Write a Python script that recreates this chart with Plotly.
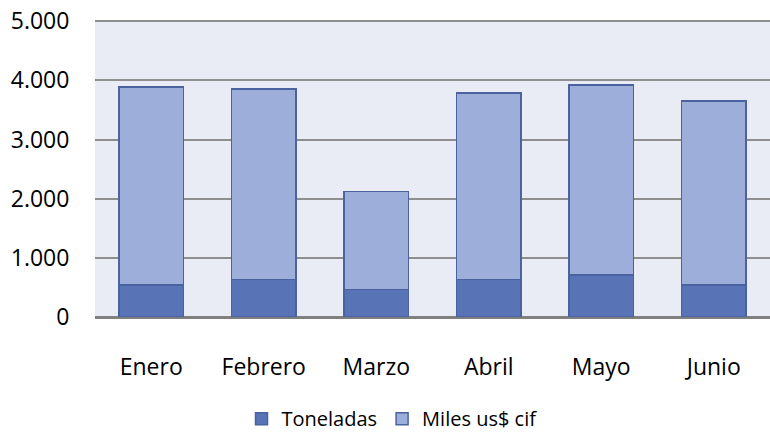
import plotly.graph_objects as go

months = ["Enero", "Febrero", "Marzo", "Abril", "Mayo", "Junio"]
toneladas = [537, 633, 464, 633, 706, 537]
miles_us_cif = [3349, 3224, 1660, 3151, 3214, 3117]
y_ticks = [0, 1000, 2000, 3000, 4000, 5000]

FONT = "Open Sans"
BORDER = "#4A63A0"

fig = go.Figure()
fig.add_trace(go.Bar(
    x=months, y=toneladas, name="Toneladas",
    marker=dict(color="#5874B6", line=dict(color=BORDER, width=1.5)),
))
fig.add_trace(go.Bar(
    x=months, y=miles_us_cif, name="Miles us$ cif",
    marker=dict(color="#9DAEDA", line=dict(color=BORDER, width=1.5)),
))

fig.update_layout(
    width=770, height=439,
    barmode="stack", bargap=0.43,
    separators=",.",
    paper_bgcolor="white",
    plot_bgcolor="#E9ECF5",
    margin=dict(l=95, r=0, t=20, b=122, autoexpand=False),
    font=dict(family=FONT, size=23, color="black"),
    showlegend=True,
    legend=dict(
        orientation="h",
        x=0.44, xanchor="center",
        y=-0.408, yanchor="bottom",
        font=dict(family=FONT, size=20, color="black"),
        traceorder="normal",
    ),
    xaxis=dict(
        showgrid=False,
        ticks="outside", ticklen=29, tickcolor="rgba(0,0,0,0)",
        tickfont=dict(family=FONT, size=23, color="black"),
        showline=False,
    ),
    yaxis=dict(
        range=[0, 5020],
        tickvals=y_ticks,
        tickformat=",.0f",
        showgrid=True, gridcolor="#8E8E8E", gridwidth=1.5,
        zeroline=True, zerolinecolor="#808080", zerolinewidth=2.5,
        ticks="outside", ticklen=20, tickcolor="rgba(0,0,0,0)",
        tickfont=dict(family=FONT, size=23, color="black"),
    ),
)

fig.write_html(
    "out.html",
    config={"displayModeBar": False},
    post_script="document.body.style.margin='0';",
)
